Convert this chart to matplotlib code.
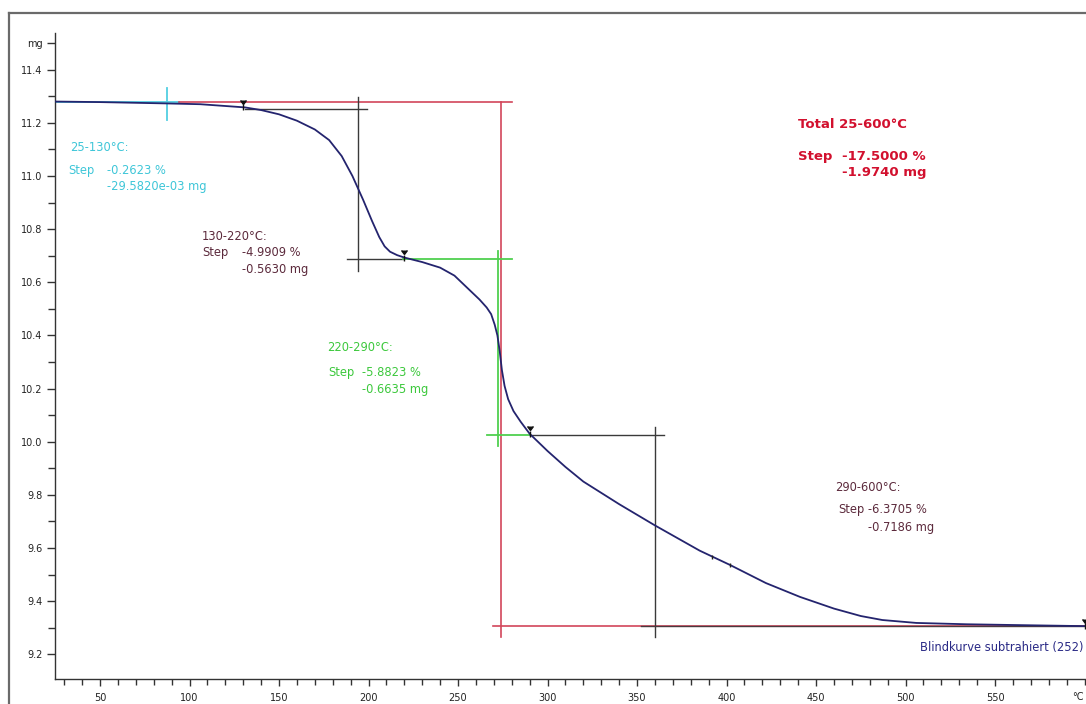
import numpy as np
import matplotlib
matplotlib.use("Agg")
import matplotlib.pyplot as plt
from matplotlib.lines import Line2D

# TGA curve, temperature in °C, mass in mg
temp = [25, 50, 87, 106, 131, 140, 150, 160, 170, 178, 185, 191, 197, 202, 206, 209,
        212, 216, 220, 230, 240, 248, 255, 262, 266, 268.5, 270.5, 272, 273.3, 274.5,
        276, 278, 281, 285, 290, 300, 310, 320, 340, 360, 385, 402, 422, 441, 460, 475,
        487, 506, 534, 571, 600]
mass = [11.280, 11.278, 11.273, 11.270, 11.258, 11.248, 11.232, 11.208, 11.175, 11.135,
        11.075, 11.000, 10.910, 10.830, 10.770, 10.735, 10.715, 10.702, 10.693, 10.676,
        10.655, 10.625, 10.580, 10.535, 10.505, 10.480, 10.440, 10.400, 10.340, 10.270,
        10.210, 10.160, 10.115, 10.075, 10.030, 9.965, 9.905, 9.850, 9.765, 9.685, 9.590,
        9.536, 9.468, 9.416, 9.372, 9.344, 9.329, 9.318, 9.313, 9.309, 9.306]

# step evaluation
start_mass = 11.28
step_ranges = ["25-130°C:", "130-220°C:", "220-290°C:", "290-600°C:"]
step_ends = [130, 220, 290, 600]
step_mid = [87.4, 194, 272.3, 360]
step_pct = ["-0.2623 %", "-4.9909 %", "-5.8823 %", "-6.3705 %"]
step_mg_txt = ["-29.5820e-03 mg", "-0.5630 mg", "-0.6635 mg", "-0.7186 mg"]
step_mg = [-29.5820e-03, -0.5630, -0.6635, -0.7186]
total_range = "Total 25-600°C"
total_mid = 274
total_pct = "-17.5000 %"
total_mg = "-1.9740 mg"

levels = start_mass + np.concatenate([[0], np.cumsum(step_mg)])

navy = '#24246e'
cyan = '#52cfe2'
red = '#d2455a'
green = '#4fd04f'
dark = '#3a3a3a'
maroon = '#5c2a3c'

fig = plt.figure(figsize=(10.86, 7.04), dpi=100)
ax = fig.add_axes([55 / 1086, 25 / 704, 1 - 55 / 1086, (679 - 33) / 704])

# outer frame (left and top)
fig.add_artist(Line2D([9 / 1086, 9 / 1086], [0, 1 - 13 / 704], color='#6a6a6a', lw=1.6))
fig.add_artist(Line2D([9 / 1086, 1], [1 - 13 / 704, 1 - 13 / 704], color='#6a6a6a', lw=1.6))

# evaluation lines
# 25-130 (cyan)
ax.plot([25, 94], [levels[0], levels[0]], color=cyan, lw=1.3)
ax.plot([step_mid[0], step_mid[0]], [levels[0] + 0.05, levels[0] - 0.07], color=cyan, lw=1.3)
# total (red)
ax.plot([94, 280], [levels[0], levels[0]], color=red, lw=1.2)
ax.plot([total_mid, total_mid], [levels[0], levels[4] - 0.04], color=red, lw=1.2)
ax.plot([269.5, 601], [levels[4], levels[4]], color=red, lw=1.2)
# 130-220 (black)
ax.plot([131, 199], [levels[1], levels[1]], color=dark, lw=1.0)
ax.plot([step_mid[1], step_mid[1]], [levels[1] + 0.045, levels[2] - 0.045], color=dark, lw=1.0)
ax.plot([188, 219.5], [levels[2], levels[2]], color=dark, lw=1.0)
# 220-290 (green)
ax.plot([219.5, 280], [levels[2], levels[2]], color=green, lw=1.3)
ax.plot([step_mid[2], step_mid[2]], [levels[2] + 0.03, levels[3] - 0.04], color=green, lw=1.3)
ax.plot([266, 290], [levels[3], levels[3]], color=green, lw=1.3)
# 290-600 (black)
ax.plot([290, 365], [levels[3], levels[3]], color=dark, lw=1.0)
ax.plot([step_mid[3], step_mid[3]], [levels[3] + 0.03, levels[4] - 0.04], color=dark, lw=1.0)
ax.plot([352, 601], [levels[4], levels[4]], color='#4a3a3e', lw=1.0)

# curve
ax.plot(temp, mass, color=navy, lw=1.3, zorder=5)
end_mass = np.interp(step_ends, temp, mass)
ax.plot(step_ends, end_mass + 0.013, linestyle='none', marker=7, ms=3.8, color='#111111', zorder=6)
ax.plot(step_ends, end_mass, linestyle='none', marker='|', ms=5, color='#111111', zorder=6)
ax.plot([392, 402], np.interp([392, 402], temp, mass), linestyle='none', marker='|',
        ms=3, color='#222222', zorder=6)

# annotations
def block(x0, y0, x1, y1, y2, x_step, head, pct, mg, color, weight='normal', fs=8.3):
    ax.text(x0, y0, head, color=color, fontsize=fs, va='center', ha='left', fontweight=weight)
    ax.text(x_step, y1, "Step", color=color, fontsize=fs, va='center', ha='left', fontweight=weight)
    ax.text(x1, y1, pct, color=color, fontsize=fs, va='center', ha='left', fontweight=weight)
    ax.text(x1, y2, mg, color=color, fontsize=fs, va='center', ha='left', fontweight=weight)

block(33.2, 11.106, 53.9, 11.019, 10.959, 32.1, step_ranges[0], step_pct[0], step_mg_txt[0], '#3ec6d8')
block(107.0, 10.774, 129.3, 10.711, 10.647, 107.0, step_ranges[1], step_pct[1], step_mg_txt[1], maroon)
block(176.8, 10.353, 196.4, 10.259, 10.195, 177.4, step_ranges[2], step_pct[2], step_mg_txt[2], '#3cc83c')
block(460.6, 9.826, 479.1, 9.743, 9.679, 462.3, step_ranges[3], step_pct[3], step_mg_txt[3], maroon)
block(439.9, 11.192, 464.5, 11.072, 11.012, 439.9, total_range, total_pct, total_mg, '#d2102e',
      'bold', 9.5)
ax.text(599.2, 9.224, "Blindkurve subtrahiert (252)", color='#2a2a86', fontsize=8.3,
        va='center', ha='right')

# axes
ax.set_xlim(24.86, 600.8)
ax.set_ylim(9.107, 11.538)
for s in ['top', 'right']:
    ax.spines[s].set_visible(False)
for s in ['left', 'bottom']:
    ax.spines[s].set_color('#333333')
    ax.spines[s].set_linewidth(1.0)

xt = list(range(50, 551, 50))
ax.set_xticks(xt)
ax.set_xticklabels([str(v) for v in xt])
ax.set_xticks(range(30, 601, 10), minor=True)
yt = [9.2, 9.4, 9.6, 9.8, 10.0, 10.2, 10.4, 10.6, 10.8, 11.0, 11.2, 11.4, 11.5]
ax.set_yticks(yt)
ax.set_yticklabels(["%.1f" % v for v in yt[:-1]] + ["mg"])
ax.set_yticks(np.arange(9.3, 11.45, 0.2), minor=True)
ax.tick_params(axis='both', which='both', colors='#333333', labelsize=7, labelcolor='#222222')
ax.tick_params(axis='x', which='major', length=5, width=1, pad=5)
ax.tick_params(axis='x', which='minor', length=4, width=1)
ax.tick_params(axis='y', which='major', length=6, width=1, pad=3)
ax.tick_params(axis='y', which='minor', length=5, width=1)
ax.annotate("°C", xy=(596.4, 0), xycoords=('data', 'axes fraction'), xytext=(0, -13),
            textcoords='offset points', fontsize=7, color='#222222', ha='center', va='center')

fig.savefig("out.png", dpi=100)
